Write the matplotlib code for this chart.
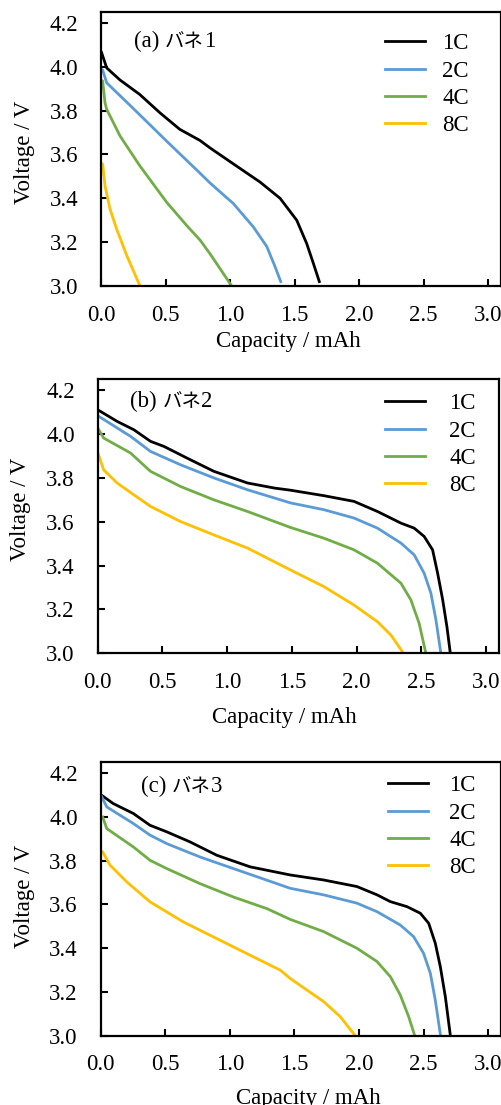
import matplotlib
matplotlib.use("Agg")
import matplotlib.pyplot as plt
from matplotlib.offsetbox import TextArea, HPacker, AnchoredOffsetbox

plt.rcParams['font.family'] = ['Liberation Serif', 'Noto Sans CJK JP']

rates = ["1C", "2C", "4C", "8C"]
colors = ["#000000", "#5B9BD5", "#70AD47", "#FFC000"]
title_tags = ["(a) ", "(b) ", "(c) "]
title_word = "バネ"
title_nums = ["1", "2", "3"]
x_ticks = [0.0, 0.5, 1.0, 1.5, 2.0, 2.5, 3.0]
y_ticks = [3.0, 3.2, 3.4, 3.6, 3.8, 4.0, 4.2]

# Panel (a)
a_1c_cap = [0.0, 0.005, 0.044, 0.147, 0.30, 0.457, 0.61, 0.767, 0.845, 1.026, 1.233, 1.388, 1.517, 1.594, 1.646, 1.692]
a_1c_v = [4.07, 4.064, 3.995, 3.94, 3.874, 3.79, 3.715, 3.664, 3.63, 3.557, 3.474, 3.40, 3.30, 3.194, 3.103, 3.02]
a_2c_cap = [0.0, 0.013, 0.044, 0.25, 0.51, 0.767, 0.845, 1.026, 1.18, 1.285, 1.349, 1.393]
a_2c_v = [3.99, 3.985, 3.927, 3.81, 3.66, 3.515, 3.47, 3.376, 3.27, 3.18, 3.088, 3.02]
a_4c_cap = [0.0, 0.013, 0.031, 0.044, 0.147, 0.30, 0.509, 0.664, 0.767, 0.845, 1.013]
a_4c_v = [3.94, 3.935, 3.836, 3.806, 3.685, 3.549, 3.382, 3.276, 3.21, 3.147, 3.0]
a_8c_cap = [0.0, 0.013, 0.031, 0.07, 0.121, 0.199, 0.302]
a_8c_v = [3.56, 3.556, 3.457, 3.351, 3.26, 3.14, 3.0]

# Panel (b)
b_1c_cap = [0.0, 0.15, 0.279, 0.408, 0.511, 0.692, 0.898, 1.157, 1.363, 1.49, 1.748, 1.98, 2.161, 2.342, 2.445, 2.522, 2.587, 2.626, 2.665, 2.698, 2.724]
b_1c_v = [4.111, 4.058, 4.02, 3.967, 3.944, 3.89, 3.83, 3.777, 3.754, 3.744, 3.719, 3.693, 3.647, 3.594, 3.571, 3.533, 3.472, 3.365, 3.244, 3.12, 3.0]
b_2c_cap = [0.0, 0.253, 0.408, 0.64, 0.898, 1.157, 1.49, 1.748, 1.98, 2.161, 2.342, 2.445, 2.522, 2.574, 2.613, 2.651]
b_2c_v = [4.084, 3.99, 3.921, 3.86, 3.80, 3.746, 3.686, 3.655, 3.617, 3.571, 3.503, 3.449, 3.365, 3.274, 3.152, 3.0]
b_4c_cap = [0.0, 0.046, 0.253, 0.408, 0.64, 0.898, 1.157, 1.49, 1.748, 1.98, 2.161, 2.342, 2.419, 2.483, 2.535]
b_4c_v = [4.028, 3.982, 3.914, 3.83, 3.761, 3.70, 3.647, 3.574, 3.525, 3.472, 3.411, 3.32, 3.244, 3.137, 3.0]
b_8c_cap = [0.0, 0.046, 0.15, 0.279, 0.408, 0.64, 0.898, 1.157, 1.49, 1.748, 1.98, 2.161, 2.264, 2.362]
b_8c_v = [3.917, 3.837, 3.777, 3.723, 3.67, 3.601, 3.54, 3.48, 3.38, 3.304, 3.22, 3.144, 3.084, 3.0]

# Panel (c)
c_1c_cap = [0.015, 0.098, 0.253, 0.382, 0.512, 0.692, 0.899, 1.157, 1.467, 1.726, 1.984, 2.14, 2.243, 2.372, 2.475, 2.54, 2.591, 2.63, 2.669, 2.708]
c_1c_v = [4.096, 4.061, 4.016, 3.962, 3.932, 3.886, 3.825, 3.772, 3.735, 3.712, 3.682, 3.644, 3.613, 3.59, 3.56, 3.514, 3.423, 3.316, 3.178, 3.0]
c_2c_cap = [0.008, 0.047, 0.253, 0.382, 0.512, 0.77, 1.028, 1.287, 1.467, 1.726, 1.984, 2.14, 2.32, 2.423, 2.5, 2.553, 2.591, 2.632]
c_2c_v = [4.092, 4.046, 3.97, 3.917, 3.878, 3.817, 3.764, 3.711, 3.674, 3.644, 3.606, 3.567, 3.506, 3.453, 3.377, 3.285, 3.163, 3.0]
c_4c_cap = [0.015, 0.047, 0.253, 0.382, 0.512, 0.77, 1.028, 1.287, 1.467, 1.726, 1.984, 2.14, 2.243, 2.32, 2.385, 2.432]
c_4c_v = [4.0, 3.947, 3.863, 3.802, 3.764, 3.695, 3.634, 3.581, 3.532, 3.476, 3.40, 3.339, 3.27, 3.186, 3.087, 3.0]
c_8c_cap = [0.015, 0.072, 0.202, 0.382, 0.64, 0.899, 1.157, 1.39, 1.467, 1.726, 1.855, 1.971]
c_8c_v = [3.84, 3.78, 3.703, 3.612, 3.52, 3.444, 3.368, 3.30, 3.262, 3.156, 3.087, 3.0]

panels = [
    [(a_1c_cap, a_1c_v), (a_2c_cap, a_2c_v), (a_4c_cap, a_4c_v), (a_8c_cap, a_8c_v)],
    [(b_1c_cap, b_1c_v), (b_2c_cap, b_2c_v), (b_4c_cap, b_4c_v), (b_8c_cap, b_8c_v)],
    [(c_1c_cap, c_1c_v), (c_2c_cap, c_2c_v), (c_4c_cap, c_4c_v), (c_8c_cap, c_8c_v)],
]

W, H = 502, 1105
fig = plt.figure(figsize=(W / 100, H / 100), dpi=100)
rects = [
    (101, 12, 501, 286),
    (97.7, 379.3, 499, 653.3),
    (100.7, 762.3, 501, 1035.7),
]
title_pos = [(0.0825, 0.892), (0.0805, 0.918), (0.0999, 0.911)]
leg_pos = [(0.71, 0.922), (0.716, 0.949), (0.718, 0.952)]
leg_pad = [0.74, 1.05, 0.92]
xlab_x = [0.4675, 0.464, 0.518]
xlab_pad = [4, 10, 9]
ylab_y = [0.487, 0.527, 0.511]
ylab_pad = [10.4, 10.8, 10.0]
fs = 16.5
for i, (rect, series) in enumerate(zip(rects, panels)):
    l, t, r, b = rect
    ax = fig.add_axes([l / W, 1 - b / H, (r - l) / W, (b - t) / H])
    for (cap, v), lab, col in zip(series, rates, colors):
        ax.plot(cap, v, color=col, lw=2.0, label=lab)
    ax.set_xlim(0, 3.1)
    ax.set_ylim(3.0, 4.25)
    ax.set_xticks(x_ticks)
    ax.set_yticks(y_ticks)
    ax.set_xticklabels([f"{v:.1f}" for v in x_ticks])
    ax.set_yticklabels([f"{v:.1f}" for v in y_ticks])
    ax.tick_params(direction='in', length=5, width=1.5, labelsize=fs,
                   top=False, right=False)
    ax.tick_params(axis='x', pad=13.5)
    ax.tick_params(axis='y', pad=16.5)
    ax.minorticks_off()
    for s in ax.spines.values():
        s.set_linewidth(1.6)
    ax.set_xlabel("Capacity / mAh", fontsize=fs, labelpad=xlab_pad[i])
    ax.xaxis.label.set_x(xlab_x[i])
    ax.set_ylabel("Voltage / V", fontsize=fs, labelpad=ylab_pad[i])
    ax.yaxis.label.set_y(ylab_y[i])

    parts = HPacker(children=[
        TextArea(title_tags[i], textprops=dict(fontsize=16.5)),
        TextArea(title_word, textprops=dict(fontsize=14, family=['Noto Sans CJK JP'])),
        TextArea(title_nums[i], textprops=dict(fontsize=16.5)),
    ], align="baseline", pad=0, sep=0)
    ab = AnchoredOffsetbox(loc='center left', child=parts, pad=0, borderpad=0,
                           frameon=False, bbox_to_anchor=title_pos[i],
                           bbox_transform=ax.transAxes)
    ax.add_artist(ab)

    ax.legend(loc='upper left', bbox_to_anchor=leg_pos[i], frameon=False,
              fontsize=fs, handlelength=1.75, handletextpad=leg_pad[i],
              labelspacing=0.27, borderaxespad=0, borderpad=0)

fig.savefig("out.png", dpi=100)
